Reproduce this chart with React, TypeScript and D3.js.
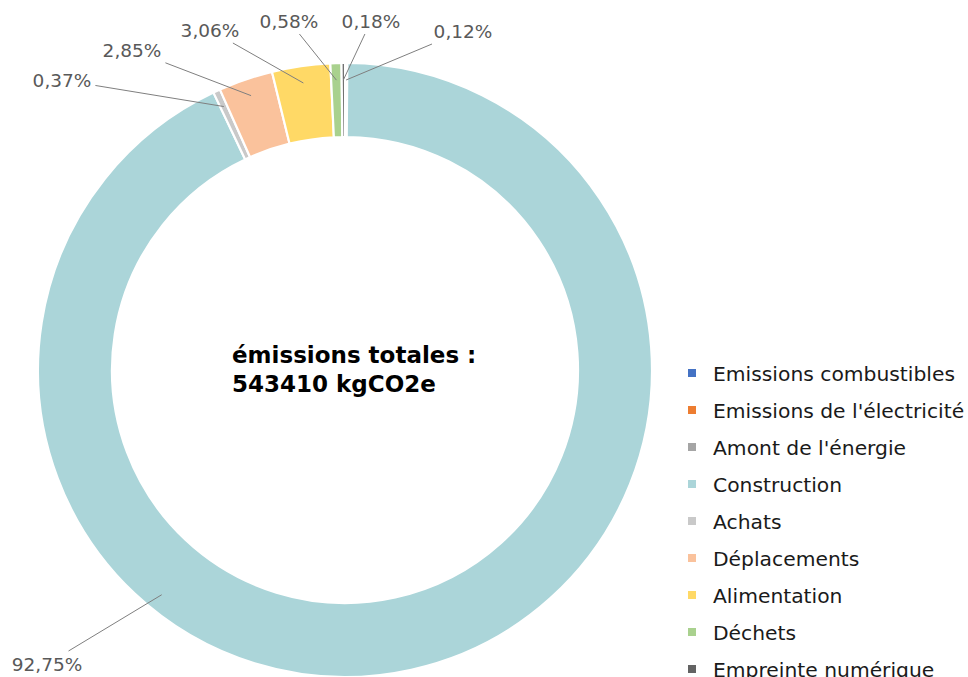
import React, { useEffect, useRef } from 'react';
import * as d3 from 'd3';

// postes d'émissions (ordre de la légende / du graphique)
const categories = [
  'Emissions combustibles',
  "Emissions de l'électricité",
  "Amont de l'énergie",
  'Construction',
  'Achats',
  'Déplacements',
  'Alimentation',
  'Déchets',
  'Empreinte numérique',
];
// parts en %
const shares = [0, 0, 0.12, 92.75, 0.37, 2.85, 3.06, 0.58, 0.18];
const colors = ['#4472c4', '#ed7d31', '#a5a5a5', '#abd5d9', '#c9c9c9', '#fac29c', '#ffd966', '#a9d18e', '#636363'];
const totalText = ['émissions totales :', '543410 kgCO2e'];

// where the data labels were dragged to (layout only)
const labelPos: ([number, number] | null)[] = [
  null, null, [463, 31], [47, 664], [62, 80], [132, 50], [210, 30], [289, 21], [371, 21],
];

const W = 968;
const H = 677;
const FONT = "'DejaVu Sans', sans-serif";

export default function App() {
  const ref = useRef<SVGSVGElement>(null);

  useEffect(() => {
    const svg = d3.select(ref.current);
    svg.selectAll('*').remove();

    const cx = 345, cy = 370;
    const outerR = 307, innerR = 233;

    const pie = d3.pie<number>().sort(null).value(d => d);
    const arcs = pie(shares);
    const arc = d3.arc<d3.PieArcDatum<number>>().innerRadius(innerR).outerRadius(outerR);

    const g = svg.append('g').attr('transform', `translate(${cx},${cy})`);

    g.selectAll('path.slice')
      .data(arcs)
      .enter()
      .append('path')
      .attr('class', 'slice')
      .attr('d', arc)
      .attr('fill', (d, i) => colors[i])
      .attr('stroke', 'white')
      .attr('stroke-width', 2.2);

    // data labels + leader lines
    const leaderR = 290;
    arcs.forEach((d, i) => {
      const pos = labelPos[i];
      if (!pos || shares[i] === 0) return;

      const txt = shares[i].toFixed(2).replace('.', ',') + '%';
      const t = svg.append('text')
        .attr('x', pos[0])
        .attr('y', pos[1])
        .attr('text-anchor', 'middle')
        .attr('dominant-baseline', 'central')
        .attr('font-family', FONT)
        .attr('font-size', 18.5)
        .attr('fill', '#595959')
        .text(txt);

      const node = t.node() as SVGTextElement;
      const hw = node.getComputedTextLength() / 2 + 4;
      const hh = 13;

      const span = d.endAngle - d.startAngle;
      let a = (d.startAngle + d.endAngle) / 2;
      if (span > 0.5) {
        // big slice: aim at the label's corner closest to the ring
        const kx = pos[0] + (pos[0] < cx ? hw : -hw);
        const ky = pos[1] + (pos[1] < cy ? hh : -hh);
        let toLabel = Math.atan2(kx - cx, -(ky - cy));
        if (toLabel < 0) toLabel += Math.PI * 2;
        a = Math.max(d.startAngle + 0.05, Math.min(d.endAngle - 0.05, toLabel - 0.06));
      }
      const ex = cx + Math.sin(a) * leaderR;
      const ey = cy - Math.cos(a) * leaderR;

      const dx = ex - pos[0], dy = ey - pos[1];
      const s = Math.min(Math.abs(dx) > 0 ? hw / Math.abs(dx) : Infinity, Math.abs(dy) > 0 ? hh / Math.abs(dy) : Infinity);
      const sx = pos[0] + dx * s, sy = pos[1] + dy * s;

      svg.append('line')
        .attr('x1', sx).attr('y1', sy)
        .attr('x2', ex).attr('y2', ey)
        .attr('stroke', '#7f7f7f')
        .attr('stroke-width', 1);
    });

    // centre text
    svg.append('g').selectAll('text')
      .data(totalText)
      .enter()
      .append('text')
      .attr('x', 232)
      .attr('y', (d, i) => 363 + i * 29)
      .attr('font-family', FONT)
      .attr('font-weight', 'bold')
      .attr('font-size', 23)
      .attr('fill', '#000')
      .text(d => d);

    // legend
    const legend = svg.append('g').attr('transform', 'translate(688,373)');
    const rows = legend.selectAll('g')
      .data(categories)
      .enter()
      .append('g')
      .attr('transform', (d, i) => `translate(0,${i * 37})`);
    rows.append('rect')
      .attr('x', 0).attr('y', -4)
      .attr('width', 8).attr('height', 8)
      .attr('fill', (d, i) => colors[i]);
    rows.append('text')
      .attr('x', 25)
      .attr('y', 1)
      .attr('dominant-baseline', 'central')
      .attr('font-family', FONT)
      .attr('font-size', 20.3)
      .attr('fill', '#1a1a1a')
      .text(d => d);
  }, []);

  return (
    <svg
      ref={ref}
      width={W}
      height={H}
      style={{ position: 'absolute', left: 0, top: 0, background: 'white' }}
    />
  );
}
